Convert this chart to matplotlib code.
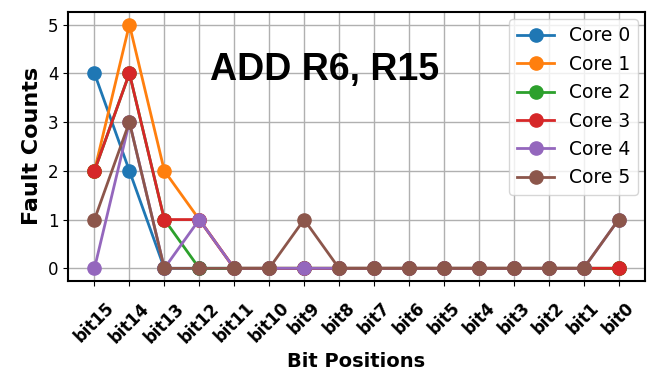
import matplotlib
matplotlib.use("Agg")
import matplotlib.pyplot as plt

bits = ["bit15", "bit14", "bit13", "bit12", "bit11", "bit10", "bit9", "bit8",
        "bit7", "bit6", "bit5", "bit4", "bit3", "bit2", "bit1", "bit0"]
core0 = [4, 2, 0, 0, 0, 0, 0, 0, 0, 0, 0, 0, 0, 0, 0, 0]
core1 = [2, 5, 2, 1, 0, 0, 0, 0, 0, 0, 0, 0, 0, 0, 0, 0]
core2 = [2, 4, 1, 0, 0, 0, 0, 0, 0, 0, 0, 0, 0, 0, 0, 0]
core3 = [2, 4, 1, 1, 0, 0, 0, 0, 0, 0, 0, 0, 0, 0, 0, 0]
core4 = [0, 3, 0, 1, 0, 0, 0, 0, 0, 0, 0, 0, 0, 0, 0, 1]
core5 = [1, 3, 0, 0, 0, 0, 1, 0, 0, 0, 0, 0, 0, 0, 0, 1]
series = [core0, core1, core2, core3, core4, core5]
labels = ["Core 0", "Core 1", "Core 2", "Core 3", "Core 4", "Core 5"]

fig = plt.figure(figsize=(6.5, 3.74), dpi=100)
ax = fig.add_axes([0.105, 0.25, 0.887, 0.717])
x = list(range(len(bits)))
for vals, lab in zip(series, labels):
    ax.plot(x, vals, marker="o", markersize=9.5, linewidth=2, label=lab)

ax.set_xticks(x)
ax.set_xticklabels(bits, rotation=45, fontweight="bold", fontsize=12)
ax.tick_params(axis="x", pad=10)
ax.set_yticks(range(6))
for t in ax.get_yticklabels():
    t.set_fontsize(12)
ax.set_xlabel("Bit Positions", fontsize=14, fontweight="bold")
ax.set_ylabel("Fault Counts", fontsize=16, fontweight="bold")
ax.grid(True, color="#b0b0b0", linewidth=1)
for s in ax.spines.values():
    s.set_linewidth(1.5)
ax.text(0.445, 0.785, "ADD R6, R15", transform=ax.transAxes, ha="center", va="center",
        fontsize=27, fontweight="bold", family="Liberation Sans")
ax.legend(loc="upper right", fontsize=13.5, borderaxespad=0.35)
fig.savefig("out.png", dpi=100)
